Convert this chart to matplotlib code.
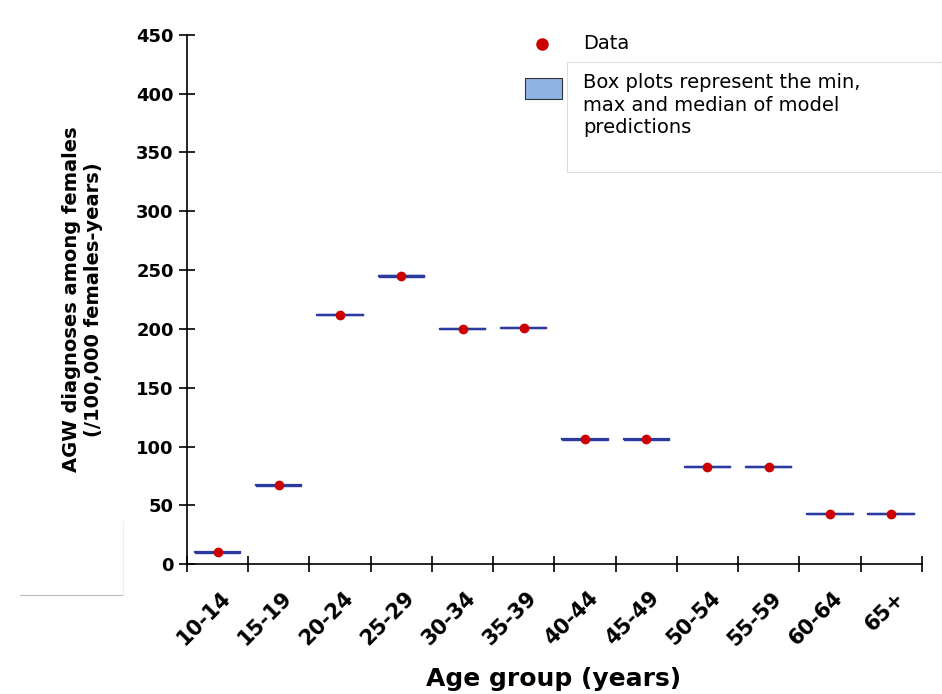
import matplotlib
matplotlib.use("Agg")
import matplotlib.pyplot as plt
from matplotlib.patches import Rectangle
from matplotlib.lines import Line2D

groups = ["10-14","15-19","20-24","25-29","30-34","35-39","40-44","45-49","50-54","55-59","60-64","65+"]
data = [10, 67, 212, 245, 200, 201, 106, 106, 83, 83, 43, 43]
model_min = [9.5, 66.5, 211.5, 244.5, 199.5, 200.5, 105.5, 105.5, 82.5, 82.5, 42.5, 42.5]
model_max = [10.5, 67.5, 212.5, 245.5, 200.5, 201.5, 106.5, 106.5, 83.5, 83.5, 43.5, 43.5]
model_med = [10, 67, 212, 245, 200, 201, 106, 106, 83, 83, 43, 43]

fig = plt.figure(figsize=(9.42, 6.94), dpi=100)
ax = fig.add_axes([0.1985, 0.187, 0.78, 0.763])
for i in range(len(groups)):
    x = i + 0.5
    ax.add_patch(Rectangle((x-0.37, model_min[i]), 0.74, model_max[i]-model_min[i],
                           facecolor="#8db4e2", edgecolor="#2b3a9e", lw=1.0, zorder=2))
    ax.plot([x-0.37, x+0.37], [model_med[i]]*2, color="#2b3a9e", lw=1.6, zorder=3)
ax.scatter([i+0.5 for i in range(len(groups))], data, s=36, color="#cc0000", zorder=4)

ax.set_xlim(0, 12)
ax.set_ylim(0, 450)
ax.set_xticks(range(13))
ax.set_xticklabels([])
for i, g in enumerate(groups):
    ax.text(i + 0.55, -20, g, rotation=45, ha="right", va="top", fontsize=15,
            fontweight="bold", rotation_mode="anchor", transform=ax.transData)
ax.set_yticks(range(0, 451, 50))
ax.tick_params(axis="y", labelsize=13, direction="inout", length=12, width=1.2)
ax.tick_params(axis="x", direction="inout", length=12, width=1.2)
for l in ax.get_yticklabels():
    l.set_fontweight("bold")
for s in ["top", "right"]:
    ax.spines[s].set_visible(False)
ax.spines["left"].set_linewidth(1.2)
ax.spines["bottom"].set_linewidth(1.2)
ax.set_ylabel("AGW diagnoses among females\n(/100,000 females-years)", fontsize=14,
              fontweight="bold", labelpad=24)
fig.text(0.588, 0.005, "Age group (years)", ha="center", va="bottom", fontsize=18, fontweight="bold")

# legend
fig.patches.append(Rectangle((0.602, 0.752), 0.398, 0.158, transform=fig.transFigure,
                             facecolor="white", edgecolor="#dddddd", lw=0.8))
fig.lines.append(Line2D([0.575], [0.937], marker="o", color="#cc0000", markersize=8,
                        transform=fig.transFigure))
fig.text(0.619, 0.937, "Data", fontsize=14, va="center")
fig.patches.append(Rectangle((0.557, 0.857), 0.04, 0.03, transform=fig.transFigure,
                             facecolor="#8db4e2", edgecolor="#333333", lw=0.8))
fig.text(0.619, 0.895, "Box plots represent the min,\nmax and median of model\npredictions",
         fontsize=14, va="top", linespacing=1.25)

# stray artifact lines
fig.lines.append(Line2D([0.021, 0.131], [0.142, 0.142], color="#bbbbbb", lw=0.8, transform=fig.transFigure))
fig.lines.append(Line2D([0.131, 0.131], [0.142, 0.25], color="#eeeeee", lw=0.8, transform=fig.transFigure))

fig.savefig("out.png", dpi=100)
